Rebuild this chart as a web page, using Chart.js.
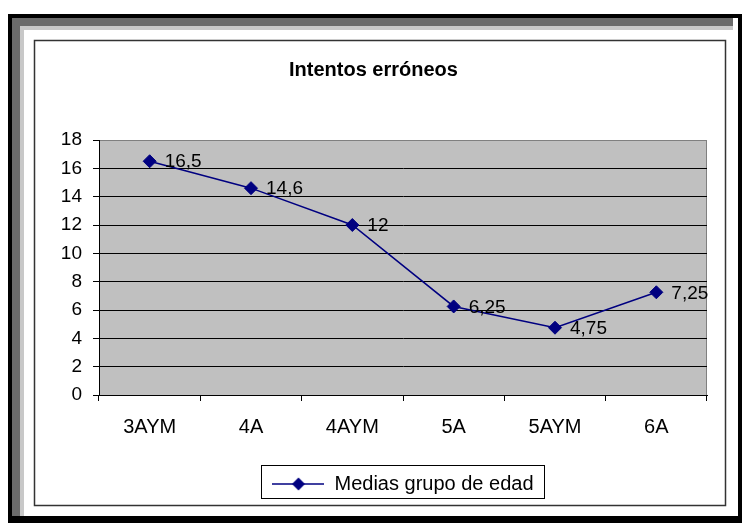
<!DOCTYPE html>
<html>
<head>
<meta charset="utf-8">
<script src="https://cdn.jsdelivr.net/npm/chart.js@4"></script>
<style>
  html, body { margin: 0; padding: 0; background: #fff; }
  canvas { display: block; }
</style>
</head>
<body>
<canvas id="chart" width="742" height="523"></canvas>
<script>
// Data
const chartTitle = 'Intentos erróneos';
const seriesName = 'Medias grupo de edad';
const categories = ['3AYM', '4A', '4AYM', '5A', '5AYM', '6A'];
const values = [16.5, 14.6, 12, 6.25, 4.75, 7.25];
const yMin = 0;
const yMax = 18;
const yStep = 2;

const navy = '#000080';
const font = 'Liberation Sans, Arial, sans-serif';

Chart.defaults.color = '#000';
Chart.defaults.font.family = font;

// Legend icon: line with a diamond in the middle (like the Excel legend key)
const legendIcon = document.createElement('canvas');
legendIcon.width = 52;
legendIcon.height = 16;
(function () {
  const c = legendIcon.getContext('2d');
  c.strokeStyle = navy;
  c.lineWidth = 1.5;
  c.beginPath();
  c.moveTo(0, 8);
  c.lineTo(52, 8);
  c.stroke();
  c.fillStyle = navy;
  c.beginPath();
  c.moveTo(26, 1.5);
  c.lineTo(32.5, 8);
  c.lineTo(26, 14.5);
  c.lineTo(19.5, 8);
  c.closePath();
  c.fill();
})();

// Window frame, inner chart border and grey plot background
const framePlugin = {
  id: 'frame',
  beforeDraw(chart) {
    const ctx = chart.ctx;
    const a = chart.chartArea;
    ctx.save();
    ctx.fillStyle = '#fff';
    ctx.fillRect(0, 0, 742, 523);
    // outer dark frame
    ctx.fillStyle = '#000';
    ctx.fillRect(8, 14, 734, 4);
    ctx.fillRect(8, 14, 4, 509);
    ctx.fillRect(738, 14, 4, 509);
    ctx.fillRect(8, 516, 734, 7);
    ctx.fillStyle = '#6b6b6b';
    ctx.fillRect(12, 18, 721, 8);
    ctx.fillRect(12, 18, 8, 498);
    ctx.fillStyle = '#c8c8c8';
    ctx.fillRect(20, 26, 713, 4);
    ctx.fillRect(20, 26, 4, 490);
    // inner chart border
    ctx.strokeStyle = '#333';
    ctx.lineWidth = 1.5;
    ctx.strokeRect(34.5, 40.5, 691, 465);
    // plot area
    ctx.fillStyle = '#c0c0c0';
    ctx.fillRect(a.left, a.top, a.right - a.left, a.bottom - a.top);
    ctx.strokeStyle = '#808080';
    ctx.lineWidth = 1;
    ctx.strokeRect(a.left + 0.5, a.top + 0.5, a.right - a.left - 1, a.bottom - a.top);
    ctx.restore();
  },
  afterDraw(chart) {
    const ctx = chart.ctx;
    // value labels next to each point
    const meta = chart.getDatasetMeta(0);
    ctx.save();
    ctx.font = '19px ' + font;
    ctx.fillStyle = '#000';
    ctx.textAlign = 'left';
    ctx.textBaseline = 'middle';
    meta.data.forEach((pt, i) => {
      const txt = String(values[i]).replace('.', ',');
      ctx.fillText(txt, pt.x + 15, pt.y + 1);
    });
    // box around the legend
    const box = chart.legend.legendHitBoxes[0];
    if (box) {
      ctx.strokeStyle = '#000';
      ctx.lineWidth = 1;
      ctx.strokeRect(Math.round(box.left - 11) + 0.5, Math.round(box.top - 9) + 0.5,
        Math.round(box.width + 22), Math.round(box.height + 13));
    }
    ctx.restore();
  }
};

new Chart(document.getElementById('chart'), {
  type: 'line',
  data: {
    labels: categories,
    datasets: [{
      label: seriesName,
      data: values,
      borderColor: navy,
      backgroundColor: navy,
      borderWidth: 1.5,
      pointStyle: 'rectRot',
      pointRadius: 6.5,
      pointBorderWidth: 1,
      pointBackgroundColor: navy,
      pointBorderColor: navy,
      tension: 0,
      fill: false
    }]
  },
  options: {
    responsive: false,
    animation: false,
    devicePixelRatio: 1,
    layout: { padding: { left: 40, right: 35, top: 40, bottom: 19 } },
    plugins: {
      title: {
        display: true,
        text: chartTitle,
        color: '#000',
        font: { family: font, size: 20, weight: 'bold' },
        padding: { top: 18, bottom: 58 }
      },
      legend: {
        position: 'bottom',
        fullSize: false,
        labels: {
          usePointStyle: true,
          pointStyle: legendIcon,
          pointStyleWidth: 52,
          padding: 10,
          color: '#000',
          font: { family: font, size: 20 }
        }
      },
      tooltip: { enabled: false }
    },
    scales: {
      x: {
        offset: true,
        grid: {
          offset: true,
          drawOnChartArea: false,
          drawTicks: true,
          tickLength: 6,
          tickColor: '#000'
        },
        border: { color: '#000', width: 1 },
        ticks: { color: '#000', padding: 14, font: { family: font, size: 20 } },
        afterFit(scale) { scale.height = 69; }
      },
      y: {
        min: yMin,
        max: yMax,
        grid: {
          color: ctx => (ctx.tick && ctx.tick.value === yMax ? '#808080' : '#000'),
          tickColor: '#000',
          tickLength: 6,
          lineWidth: 1
        },
        border: { color: '#000', width: 1 },
        ticks: {
          stepSize: yStep,
          color: '#000',
          padding: 11,
          font: { family: font, size: 19 }
        },
        afterFit(scale) { scale.width = 59; }
      }
    }
  },
  plugins: [framePlugin]
});
</script>
</body>
</html>
